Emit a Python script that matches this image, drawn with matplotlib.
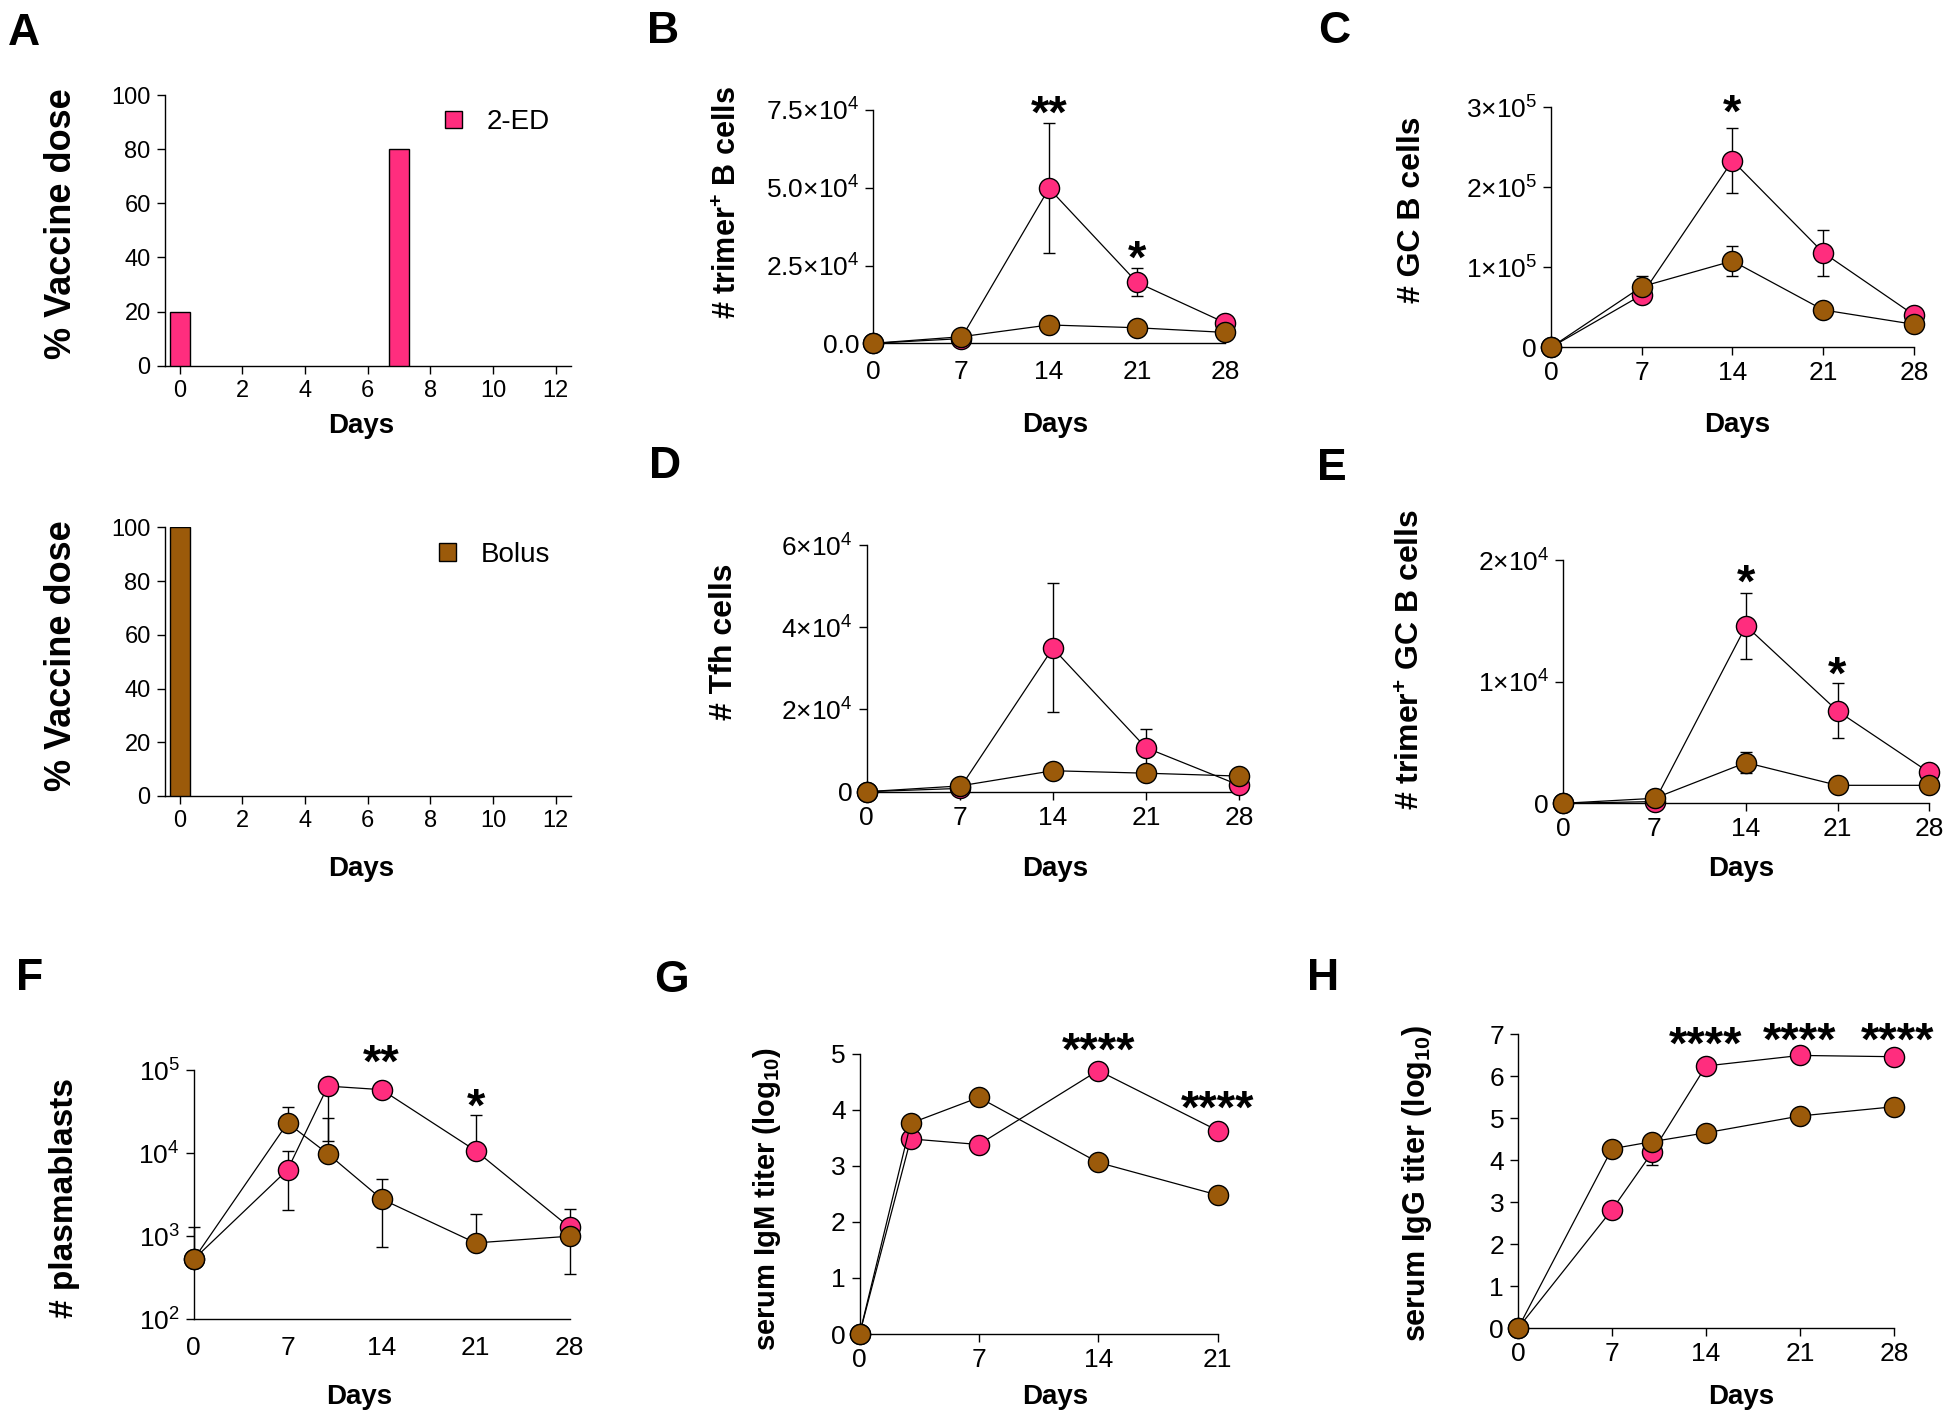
import numpy as np
import matplotlib
matplotlib.use("Agg")
import matplotlib.pyplot as plt
from matplotlib.patches import Patch
from matplotlib.ticker import NullLocator

plt.rcParams['font.family'] = ['Liberation Sans', 'DejaVu Sans']
plt.rcParams['mathtext.fontset'] = 'custom'
plt.rcParams['mathtext.rm'] = 'Liberation Sans'
plt.rcParams['mathtext.bf'] = 'Liberation Sans:bold'
plt.rcParams['mathtext.it'] = 'Liberation Sans:italic'
plt.rcParams['mathtext.default'] = 'regular'

PINK = '#ff2d7e'
BROWN = '#9b5a0a'

# ---- data ----
# A: dosing schedule (% of vaccine dose)
dose_days_2ed = [0, 7]
dose_2ed = [20, 80]
dose_days_bolus = [0]
dose_bolus = [100]

days = [0, 7, 14, 21, 28]

# B: trimer+ B cells
b_2ed = [0, 1500, 49800, 19600, 6600]
b_2ed_lo = [0, 0, 20900, 4400, 0]
b_2ed_hi = [0, 0, 21000, 4500, 0]
b_bolus = [0, 2100, 5900, 5000, 3500]

# C: GC B cells
c_2ed = [0, 65400, 233300, 118300, 40400]
c_2ed_lo = [0, 0, 40800, 29100, 0]
c_2ed_hi = [0, 0, 41300, 28400, 0]
c_bolus = [0, 75800, 107900, 46700, 28700]
c_bolus_lo = [0, 0, 18700, 0, 0]
c_bolus_hi = [0, 13400, 18800, 0, 0]

# D: Tfh cells
d_2ed = [0, 800, 34900, 10700, 1600]
d_2ed_lo = [0, 0, 15600, 4500, 0]
d_2ed_hi = [0, 0, 15800, 4500, 0]
d_bolus = [0, 1400, 5100, 4500, 3800]

# E: trimer+ GC B cells
e_2ed = [0, 140, 14600, 7600, 2550]
e_2ed_lo = [0, 0, 2700, 2200, 0]
e_2ed_hi = [0, 0, 2700, 2300, 0]
e_bolus = [0, 410, 3350, 1480, 1480]
e_bolus_lo = [0, 0, 880, 0, 0]
e_bolus_hi = [0, 0, 900, 0, 0]

# F: plasmablasts
f_days = [0, 7, 10, 14, 21, 28]
f_2ed = [525, 6300, 64000, 58000, 10700, 1280]
f_2ed_lo = [0, 4230, 50000, 0, 0, 0]
f_2ed_hi = [0, 4400, 0, 0, 18200, 870]
f_bolus = [525, 23000, 9800, 2800, 830, 1000]
f_bolus_lo = [0, 0, 0, 2060, 0, 645]
f_bolus_hi = [755, 12800, 16900, 2100, 1030, 0]

# G: serum IgM titer (log10)
g_days = [0, 3, 7, 14, 21]
g_2ed = [0, 3.48, 3.38, 4.70, 3.63]
g_2ed_err = [0, 0, 0, 0, 0.1]
g_bolus = [0, 3.76, 4.22, 3.06, 2.48]

# H: serum IgG titer (log10)
h_days = [0, 7, 10, 14, 21, 28]
h_2ed = [0, 2.82, 4.19, 6.24, 6.49, 6.46]
h_2ed_lo = [0, 0, 0.3, 0, 0, 0]
h_2ed_hi = [0, 0, 0, 0, 0, 0]
h_bolus = [0, 4.27, 4.44, 4.65, 5.05, 5.27]

# significance marks: (day, y, text)
b_stars = [(14, 78000, '**'), (21, 31600, '*')]
c_stars = [(14, 310000, '*')]
e_stars = [(14, 19260, '*'), (21, 11650, '*')]
f_stars = [(14, 1.78e5, '**'), (21, 5.25e4, '*')]
g_stars = [(14, 5.29, '****'), (21, 4.26, '****')]
h_stars = [(14, 7.07, '****'), (21, 7.15, '****'), (28.3, 7.17, '****')]

W, H = 1950, 1423
fig = plt.figure(figsize=(W / 100, H / 100), dpi=100)


def panel(x0, x1, y0, y1, tick_size=19):
    ax = fig.add_axes([x0 / W, 1 - y1 / H, (x1 - x0) / W, (y1 - y0) / H])
    ax.geom = (x0, x1, y0, y1)
    for s in ['top', 'right']:
        ax.spines[s].set_visible(False)
    for s in ['left', 'bottom']:
        ax.spines[s].set_linewidth(1.0)
    ax.tick_params(direction='out', length=6, width=1, labelsize=tick_size, pad=4)
    return ax


def labels(ax, xlabel, ylabel, xpos, ypos, ysize=22):
    x0, x1, y0, y1 = ax.geom
    ax.set_xlabel(xlabel, fontsize=20, fontweight='bold', va='center')
    ax.xaxis.set_label_coords((xpos[0] - x0) / (x1 - x0), (y1 - xpos[1]) / (y1 - y0))
    ax.set_ylabel(ylabel, fontsize=ysize, fontweight='bold', va='center')
    ax.yaxis.set_label_coords((ypos[0] - x0) / (x1 - x0), (y1 - ypos[1]) / (y1 - y0))


def series(ax, x, y, color, lo=None, hi=None, z=3):
    if lo is not None:
        ax.errorbar(x, y, yerr=[lo, hi], fmt='none', ecolor='black',
                    elinewidth=1, capsize=4, capthick=1, zorder=z - 0.5, clip_on=False)
    ax.plot(x, y, '-o', color='black', lw=0.9, markerfacecolor=color,
            markeredgecolor='black', markeredgewidth=1, ms=14.5, zorder=z, clip_on=False)


def stars(ax, marks, size=34):
    for x, y, s in marks:
        ax.annotate(s, xy=(x, y), xytext=(0, -0.58 * size), textcoords='offset points',
                    ha='center', va='baseline', fontsize=size, fontweight='bold',
                    annotation_clip=False)


def letter(x, y, s):
    fig.text(x / W, 1 - y / H, s, fontsize=32, fontweight='bold', ha='center', va='baseline')


# ---- A: dosing ----
for geom, dx, dy, col, name, ylab_y in [
        ((164.6, 571, 95, 365.7), dose_days_2ed, dose_2ed, PINK, '2-ED', 224),
        ((164.6, 571, 527.3, 796), dose_days_bolus, dose_bolus, BROWN, 'Bolus', 656)]:
    ax = panel(*geom, tick_size=17)
    ax.bar(dx, dy, width=0.64, color=col, edgecolor='black', linewidth=1, zorder=3)
    ax.set_xlim(-0.48, 12.49)
    ax.set_ylim(0, 100)
    ax.set_xticks(range(0, 13, 2))
    ax.set_yticks(range(0, 101, 20))
    ax.legend(handles=[Patch(facecolor=col, edgecolor='black', label=name)],
              loc='upper right', frameon=False, fontsize=20, handlelength=0.6,
              handleheight=0.6, handletextpad=0.9, bbox_to_anchor=(1.01, 1.04))
    labels(ax, 'Days', '% Vaccine dose', (361, geom[3] + 60 + (13 if name == 'Bolus' else 0)),
           (61.5, ylab_y), ysize=26)

# ---- B ----
ax = panel(873, 1225, 110, 343.3)
series(ax, days, b_2ed, PINK, b_2ed_lo, b_2ed_hi, z=3)
series(ax, days, b_bolus, BROWN, z=4)
ax.set_xlim(0, 28)
ax.set_ylim(0, 75000)
ax.set_xticks(days)
ax.tick_params(axis='x', length=0, pad=12)
ax.set_yticks([0, 25000, 50000, 75000])
ax.set_yticklabels(['0.0', '2.5×10$^{4}$', '5.0×10$^{4}$', '7.5×10$^{4}$'])
stars(ax, b_stars)
labels(ax, 'Days', '# trimer$^{+}$ B cells', (1055, 425), (728, 202))

# ---- C ----
ax = panel(1551, 1914, 107.3, 347.3)
series(ax, days, c_2ed, PINK, c_2ed_lo, c_2ed_hi, z=3)
series(ax, days, c_bolus, BROWN, c_bolus_lo, c_bolus_hi, z=4)
ax.set_xlim(0, 28)
ax.set_ylim(0, 300000)
ax.set_xticks(days)
ax.set_yticks([0, 1e5, 2e5, 3e5])
ax.set_yticklabels(['0', '1×10$^{5}$', '2×10$^{5}$', '3×10$^{5}$'])
stars(ax, c_stars)
labels(ax, 'Days', '# GC B cells', (1737, 425), (1412.5, 210), ysize=23)

# ---- D ----
ax = panel(866.7, 1239, 545, 791.7)
series(ax, days, d_2ed, PINK, d_2ed_lo, d_2ed_hi, z=3)
series(ax, days, d_bolus, BROWN, z=4)
ax.set_xlim(0, 28)
ax.set_ylim(0, 60000)
ax.set_xticks(days)
ax.set_yticks([0, 2e4, 4e4, 6e4])
ax.set_yticklabels(['0', '2×10$^{4}$', '4×10$^{4}$', '6×10$^{4}$'])
labels(ax, 'Days', '# Tfh cells', (1055, 869), (724, 642), ysize=23)

# ---- E ----
ax = panel(1563, 1929, 560.3, 803.3)
series(ax, days, e_2ed, PINK, e_2ed_lo, e_2ed_hi, z=3)
series(ax, days, e_bolus, BROWN, e_bolus_lo, e_bolus_hi, z=4)
ax.set_xlim(0, 28)
ax.set_ylim(0, 20000)
ax.set_xticks(days)
ax.set_yticks([0, 1e4, 2e4])
ax.set_yticklabels(['0', '1×10$^{4}$', '2×10$^{4}$'])
stars(ax, e_stars)
labels(ax, 'Days', '# trimer$^{+}$ GC B cells', (1741, 869), (1412, 659), ysize=23)

# ---- F ----
ax = panel(193.6, 569.6, 1070, 1319.3)
series(ax, f_days, f_2ed, PINK, f_2ed_lo, f_2ed_hi, z=3)
series(ax, f_days, f_bolus, BROWN, f_bolus_lo, f_bolus_hi, z=4)
ax.set_yscale('log')
ax.set_xlim(0, 28)
ax.set_ylim(1e2, 1e5)
ax.set_xticks(days)
ax.tick_params(axis='x', length=0, pad=12)
ax.set_yticks([1e2, 1e3, 1e4, 1e5])
ax.set_yticklabels(['10$^{2}$', '10$^{3}$', '10$^{4}$', '10$^{5}$'])
ax.yaxis.set_minor_locator(NullLocator())
stars(ax, f_stars)
labels(ax, 'Days', '# plasmablasts', (359, 1397), (64, 1198), ysize=24)

# ---- G ----
ax = panel(859.6, 1217.5, 1053.7, 1334)
series(ax, g_days, g_2ed, PINK, g_2ed_err, g_2ed_err, z=3)
series(ax, g_days, g_bolus, BROWN, z=4)
ax.set_xlim(0, 21)
ax.set_ylim(0, 5)
ax.set_xticks([0, 7, 14, 21])
ax.set_yticks(range(0, 6))
stars(ax, g_stars)
labels(ax, 'Days', 'serum IgM titer (log$_{10}$)', (1055, 1397), (767, 1199), ysize=21)

# ---- H ----
ax = panel(1518, 1894, 1034, 1328.3)
series(ax, h_days, h_2ed, PINK, h_2ed_lo, h_2ed_hi, z=3)
series(ax, h_days, h_bolus, BROWN, z=4)
ax.set_xlim(0, 28)
ax.set_ylim(0, 7)
ax.set_xticks(days)
ax.set_yticks(range(0, 8))
stars(ax, h_stars)
labels(ax, 'Days', 'serum IgG titer (log$_{10}$)', (1741, 1397), (1417, 1184), ysize=22)

# panel letters
for x, y, s in [(24, 45, 'A'), (663, 43, 'B'), (1334, 43, 'C'),
                (665, 478, 'D'), (1332, 480, 'E'),
                (30, 990, 'F'), (671, 992, 'G'), (1323, 990, 'H')]:
    letter(x, y, s)

fig.savefig('out.png', dpi=100)
